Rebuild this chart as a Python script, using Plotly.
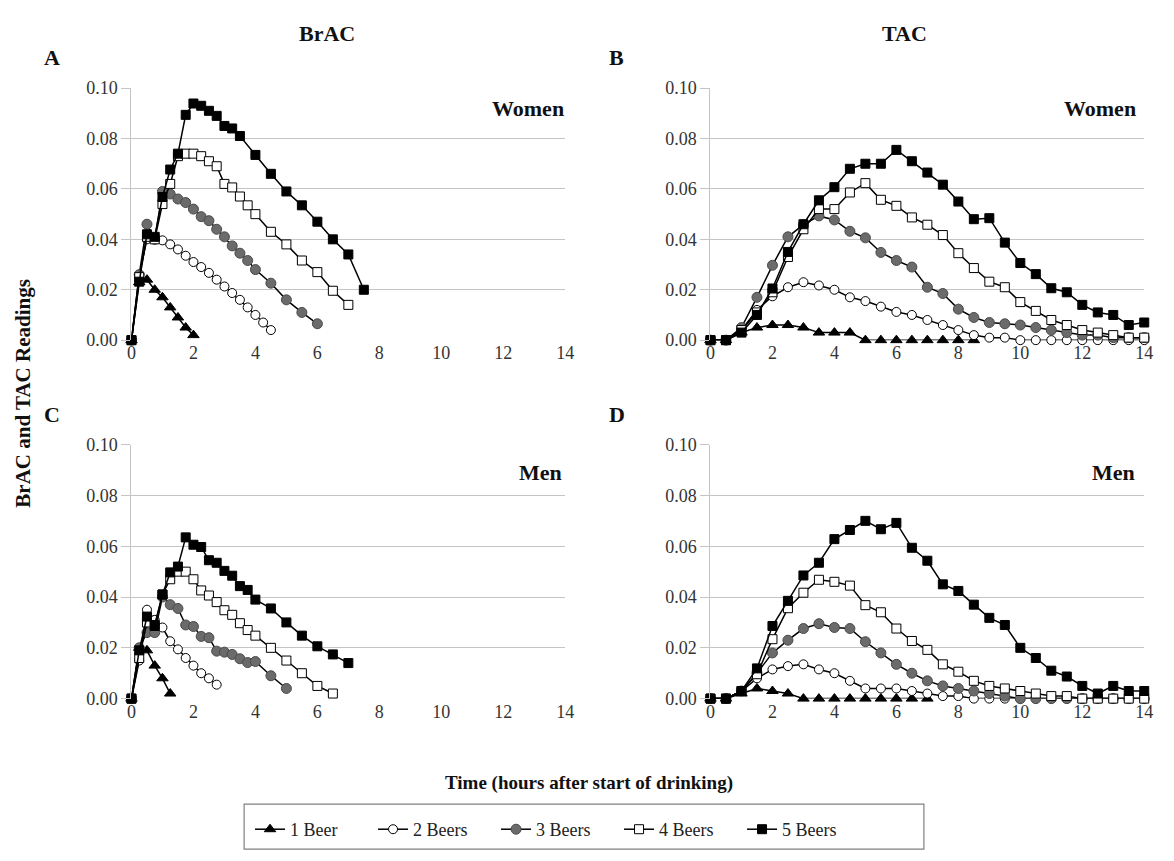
import plotly.graph_objects as go

# ---------------- DATA ----------------
series_names = ["1 Beer", "2 Beers", "3 Beers", "4 Beers", "5 Beers"]
x_ticks = [0, 2, 4, 6, 8, 10, 12, 14]
y_ticks = [0.00, 0.02, 0.04, 0.06, 0.08, 0.10]
y_tick_labels = ["0.00", "0.02", "0.04", "0.06", "0.08", "0.10"]

# Panel A - BrAC, Women
a_t1 = [0, 0.25, 0.5, 0.75, 1.0, 1.25, 1.5, 1.75, 2.0]
a_v1 = [0, 0.023, 0.024, 0.020, 0.017, 0.013, 0.009, 0.005, 0.002]
a_t2 = [0, 0.25, 0.5, 0.75, 1.0, 1.25, 1.5, 1.75, 2.0, 2.25, 2.5, 2.75, 3.0, 3.25, 3.5, 3.75, 4.0, 4.25, 4.5]
a_v2 = [0, 0.026, 0.040, 0.040, 0.0396, 0.038, 0.036, 0.0335, 0.031, 0.029, 0.0267, 0.024, 0.0213, 0.0187, 0.016, 0.013, 0.010, 0.007, 0.004]
a_t3 = [0, 0.25, 0.5, 0.75, 1.0, 1.25, 1.5, 1.75, 2.0, 2.25, 2.5, 2.75, 3.0, 3.25, 3.5, 3.75, 4.0, 4.5, 5.0, 5.5, 6.0]
a_v3 = [0, 0.026, 0.046, 0.040, 0.059, 0.058, 0.056, 0.0546, 0.052, 0.049, 0.0474, 0.044, 0.041, 0.0374, 0.0345, 0.0316, 0.028, 0.0226, 0.016, 0.011, 0.0065]
a_t4 = [0, 0.25, 0.5, 0.75, 1.0, 1.25, 1.5, 1.75, 2.0, 2.25, 2.5, 2.75, 3.0, 3.25, 3.5, 3.75, 4.0, 4.5, 5.0, 5.5, 6.0, 6.5, 7.0]
a_v4 = [0, 0.025, 0.041, 0.040, 0.054, 0.062, 0.073, 0.074, 0.074, 0.073, 0.071, 0.069, 0.062, 0.0606, 0.057, 0.0535, 0.050, 0.043, 0.038, 0.0316, 0.027, 0.0196, 0.014]
a_t5 = [0, 0.25, 0.5, 0.75, 1.0, 1.25, 1.5, 1.75, 2.0, 2.25, 2.5, 2.75, 3.0, 3.25, 3.5, 4.0, 4.5, 5.0, 5.5, 6.0, 6.5, 7.0, 7.5]
a_v5 = [0, 0.0232, 0.042, 0.041, 0.0568, 0.0677, 0.074, 0.0894, 0.0939, 0.093, 0.091, 0.089, 0.085, 0.084, 0.081, 0.0735, 0.066, 0.059, 0.0535, 0.047, 0.040, 0.034, 0.020]

# Panel C - BrAC, Men
c_t1 = [0, 0.25, 0.5, 0.75, 1.0, 1.25]
c_v1 = [0, 0.020, 0.019, 0.013, 0.008, 0.002]
c_t2 = [0, 0.25, 0.5, 0.75, 1.0, 1.25, 1.5, 1.75, 2.0, 2.25, 2.5, 2.75]
c_v2 = [0, 0.015, 0.035, 0.031, 0.028, 0.0226, 0.0194, 0.016, 0.013, 0.010, 0.008, 0.0055]
c_t3 = [0, 0.25, 0.5, 0.75, 1.0, 1.25, 1.5, 1.75, 2.0, 2.25, 2.5, 2.75, 3.0, 3.25, 3.5, 3.75, 4.0, 4.5, 5.0]
c_v3 = [0, 0.020, 0.026, 0.026, 0.040, 0.037, 0.0355, 0.029, 0.0284, 0.0245, 0.024, 0.0187, 0.0183, 0.0174, 0.0157, 0.0142, 0.0146, 0.009, 0.004]
c_t4 = [0, 0.25, 0.5, 0.75, 1.0, 1.25, 1.5, 1.75, 2.0, 2.25, 2.5, 2.75, 3.0, 3.25, 3.5, 3.75, 4.0, 4.5, 5.0, 5.5, 6.0, 6.5]
c_v4 = [0, 0.016, 0.030, 0.029, 0.041, 0.047, 0.050, 0.050, 0.047, 0.0426, 0.0406, 0.038, 0.0348, 0.033, 0.0297, 0.027, 0.0248, 0.020, 0.015, 0.010, 0.005, 0.002]
c_t5 = [0, 0.25, 0.5, 0.75, 1.0, 1.25, 1.5, 1.75, 2.0, 2.25, 2.5, 2.75, 3.0, 3.25, 3.5, 3.75, 4.0, 4.5, 5.0, 5.5, 6.0, 6.5, 7.0]
c_v5 = [0, 0.019, 0.0323, 0.0286, 0.041, 0.0497, 0.052, 0.0635, 0.0606, 0.0597, 0.0545, 0.0535, 0.0503, 0.0484, 0.0443, 0.0428, 0.039, 0.0355, 0.030, 0.0248, 0.0206, 0.0174, 0.014]

# TAC time grid (half hours)
tac_t = [0, 0.5, 1, 1.5, 2, 2.5, 3, 3.5, 4, 4.5, 5, 5.5, 6, 6.5, 7, 7.5, 8, 8.5, 9, 9.5,
         10, 10.5, 11, 11.5, 12, 12.5, 13, 13.5, 14]

# Panel B - TAC, Women
b_v1 = [0, 0, 0.003, 0.005, 0.006, 0.006, 0.005, 0.003, 0.003, 0.003, 0, 0, 0, 0, 0, 0, 0, 0]
b_v2 = [0, 0, 0.004, 0.012, 0.0174, 0.021, 0.023, 0.0217, 0.020, 0.017, 0.0155, 0.0133, 0.0112, 0.010, 0.008, 0.006, 0.004, 0.002, 0.001, 0.001, 0, 0, 0, 0, 0, 0, 0, 0, 0]
b_v3 = [0, 0, 0.005, 0.017, 0.0297, 0.041, 0.0458, 0.0493, 0.0477, 0.0432, 0.0406, 0.0348, 0.0316, 0.029, 0.021, 0.0185, 0.0123, 0.009, 0.007, 0.0065, 0.006, 0.005, 0.004, 0.003, 0.002, 0.002, 0.001, 0.001, 0.001]
b_v4 = [0, 0, 0.004, 0.011, 0.019, 0.033, 0.044, 0.052, 0.052, 0.0586, 0.0623, 0.0557, 0.0533, 0.0487, 0.0458, 0.0417, 0.0345, 0.0286, 0.0232, 0.021, 0.0151, 0.0116, 0.008, 0.006, 0.004, 0.003, 0.002, 0.001, 0.001]
b_v5 = [0, 0, 0.003, 0.010, 0.0205, 0.035, 0.046, 0.0555, 0.0607, 0.068, 0.070, 0.070, 0.0755, 0.071, 0.0665, 0.0617, 0.055, 0.048, 0.0484, 0.0387, 0.0306, 0.0262, 0.0206, 0.019, 0.014, 0.011, 0.010, 0.006, 0.007]

# Panel D - TAC, Men
d_v1 = [0, 0, 0.002, 0.004, 0.003, 0.002, 0, 0, 0, 0, 0, 0, 0, 0, 0]
d_v2 = [0, 0, 0.003, 0.008, 0.0115, 0.0128, 0.0135, 0.0115, 0.010, 0.007, 0.004, 0.004, 0.004, 0.003, 0.002, 0.001, 0.001, 0, 0, 0, 0, 0, 0, 0, 0, 0, 0, 0, 0]
d_v3 = [0, 0, 0.003, 0.010, 0.018, 0.023, 0.0276, 0.0295, 0.028, 0.0276, 0.0224, 0.018, 0.0135, 0.010, 0.007, 0.005, 0.004, 0.003, 0.002, 0.001, 0, 0, 0, 0, 0, 0, 0, 0, 0]
d_v4 = [0, 0, 0.003, 0.0096, 0.0234, 0.0356, 0.0417, 0.0468, 0.046, 0.0445, 0.0368, 0.034, 0.0276, 0.0227, 0.0192, 0.0135, 0.0106, 0.007, 0.005, 0.004, 0.003, 0.002, 0.001, 0.001, 0, 0, 0, 0, 0]
d_v5 = [0, 0, 0.003, 0.0119, 0.0286, 0.0385, 0.0485, 0.0535, 0.0628, 0.0664, 0.070, 0.0667, 0.0692, 0.0594, 0.0543, 0.045, 0.0424, 0.037, 0.0318, 0.029, 0.020, 0.016, 0.011, 0.0087, 0.005, 0.002, 0.005, 0.003, 0.003]

# ---------------- STYLE ----------------
W, H = 1174, 861
SERIF = "Liberation Serif"
styles = [
    dict(symbol="triangle-up", size=10, color="black", line=dict(color="black", width=1)),
    dict(symbol="circle", size=9, color="white", line=dict(color="black", width=1)),
    dict(symbol="circle", size=10, color="#6b6b6b", line=dict(color="#4a4a4a", width=1)),
    dict(symbol="square", size=9, color="white", line=dict(color="black", width=1)),
    dict(symbol="square", size=9, color="black", line=dict(color="black", width=1)),
]

def px_x(p):
    return p / W

def px_y(p):
    return 1 - p / H

fig = go.Figure()

panels = [
    ("x", "y", [(a_t1, a_v1), (a_t2, a_v2), (a_t3, a_v3), (a_t4, a_v4), (a_t5, a_v5)], True),
    ("x2", "y2", [(tac_t[:len(b_v1)], b_v1), (tac_t, b_v2), (tac_t, b_v3), (tac_t, b_v4), (tac_t, b_v5)], False),
    ("x3", "y3", [(c_t1, c_v1), (c_t2, c_v2), (c_t3, c_v3), (c_t4, c_v4), (c_t5, c_v5)], False),
    ("x4", "y4", [(tac_t[:len(d_v1)], d_v1), (tac_t, d_v2), (tac_t, d_v3), (tac_t, d_v4), (tac_t, d_v5)], False),
]

for xa, ya, data, show in panels:
    for i, (tt, vv) in enumerate(data):
        fig.add_trace(go.Scatter(
            x=tt, y=vv, mode="lines+markers", name=series_names[i],
            legendgroup=series_names[i], showlegend=show,
            line=dict(color="black", width=1.5),
            marker=styles[i], xaxis=xa, yaxis=ya, cliponaxis=False,
        ))

# axis domains (pixel based)
xl = [px_x(128), px_x(567)]
xr = [px_x(714), px_x(1153)]
yt = [px_y(338), px_y(80)]
yb = [px_y(705), px_y(445)]

common_x = dict(range=[0, 14], tickmode="array", tickvals=x_ticks, showgrid=False,
                zeroline=False, showline=False, ticks="",
                tickfont=dict(family=SERIF, size=18, color="#333"))
common_y = dict(range=[0, 0.1], tickmode="array", tickvals=y_ticks, ticktext=y_tick_labels,
                showgrid=True, gridcolor="#c4c4c4", gridwidth=1.2, zeroline=False,
                showline=True, linecolor="#c4c4c4", linewidth=1.2,
                ticks="outside", ticklen=9, tickcolor="#c4c4c4", tickwidth=1.2,
                tickfont=dict(family=SERIF, size=18, color="#333"))

fig.update_layout(
    xaxis=dict(domain=xl, anchor="y", **common_x),
    yaxis=dict(domain=yt, anchor="x", **common_y),
    xaxis2=dict(domain=xr, anchor="y2", **common_x),
    yaxis2=dict(domain=yt, anchor="x2", **common_y),
    xaxis3=dict(domain=xl, anchor="y3", **common_x),
    yaxis3=dict(domain=yb, anchor="x3", **common_y),
    xaxis4=dict(domain=xr, anchor="y4", **common_x),
    yaxis4=dict(domain=yb, anchor="x4", **common_y),
)

ann = []
def add_text(text, x, y, size, bold=True, xanchor="center", yanchor="middle", angle=0):
    ann.append(dict(text=("<b>%s</b>" % text) if bold else text, x=px_x(x), y=px_y(y),
                    xref="paper", yref="paper", showarrow=False, xanchor=xanchor,
                    yanchor=yanchor, textangle=angle,
                    font=dict(family=SERIF, size=size, color="#111")))

add_text("BrAC", 326, 24, 22)
add_text("TAC", 910, 24, 22)
add_text("A", 48, 49, 22)
add_text("B", 619, 49, 22)
add_text("C", 48, 414, 22)
add_text("D", 619, 414, 22)
add_text("Women", 568, 101, 22, xanchor="right")
add_text("Women", 1147, 101, 22, xanchor="right")
add_text("Men", 566, 473, 22, xanchor="right")
add_text("Men", 1146, 473, 22, xanchor="right")
add_text("BrAC and TAC Readings", 18, 392, 21, angle=-90)
add_text("Time (hours after start of drinking)", 591, 791, 19)

# legend frame
shapes = [dict(type="rect", xref="paper", yref="paper",
               x0=px_x(242), x1=px_x(930), y0=px_y(859), y1=px_y(813),
               line=dict(color="#808080", width=1.2), fillcolor="rgba(0,0,0,0)")]

fig.update_layout(
    annotations=ann,
    shapes=shapes,
    width=W, height=H,
    margin=dict(l=0, r=0, t=0, b=0),
    paper_bgcolor="white", plot_bgcolor="white",
    legend=dict(orientation="h", x=px_x(248), xanchor="left", y=px_y(839), yanchor="middle",
                borderwidth=0, bgcolor="rgba(0,0,0,0)",
                font=dict(family=SERIF, size=18, color="#222"),
                entrywidth=78, itemwidth=30, traceorder="normal"),
    showlegend=True,
)

fig.write_html("out.html", config={"displayModeBar": False},
               post_script="document.body.style.margin='0';document.body.style.overflow='hidden';")
